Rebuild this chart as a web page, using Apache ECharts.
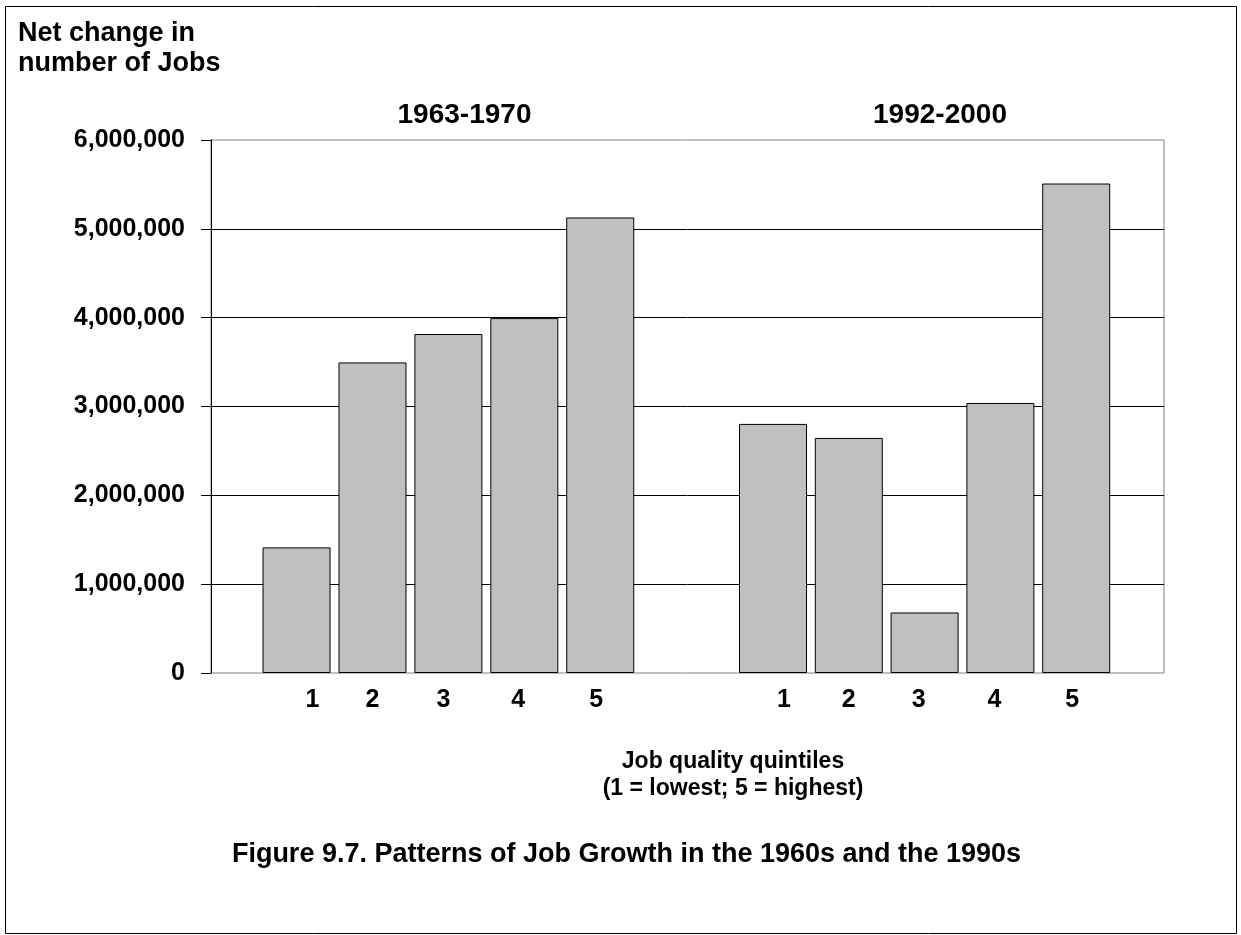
<!DOCTYPE html>
<html>
<head>
<meta charset="utf-8">
<script src="https://cdn.jsdelivr.net/npm/echarts@6/dist/echarts.min.js"></script>
<style>
html,body{margin:0;padding:0;background:#fff;}
#chart{width:1241px;height:935px;}
</style>
</head>
<body>
<div id="chart"></div>
<script>
// ---- data ----
const quintiles = ['1', '2', '3', '4', '5'];
const periods = ['1963-1970', '1992-2000'];
const jobs1963_1970 = [1414000, 3496000, 3816000, 3995000, 5128000];
const jobs1992_2000 = [2804000, 2646000, 681000, 3040000, 5510000];
const yTicks = [0, 1000000, 2000000, 3000000, 4000000, 5000000, 6000000];
const yTitle = 'Net change in\nnumber of Jobs';
const xTitle = 'Job quality quintiles\n(1 = lowest; 5 = highest)';
const caption = 'Figure 9.7. Patterns of Job Growth in the 1960s and the 1990s';

// ---- styling ----
const FONT = '"Liberation Sans", Arial, sans-serif';
const labelShift1 = [16, 0, -5, -6, -4];
const labelShift2 = [11, 0, -6, -6, -4];
function axisData(shifts) {
  return quintiles.map((q, i) => {
    const d = shifts[i];
    return { value: q, textStyle: { padding: d >= 0 ? [0, 0, 0, 2 * d] : [0, -2 * d, 0, 0] } };
  });
}
const yMin = yTicks[0], yMax = yTicks[yTicks.length - 1], yStep = yTicks[1] - yTicks[0];

const chart = echarts.init(document.getElementById('chart'), null, { renderer: 'canvas' });

const hiddenY = (idx) => ({
  type: 'value', gridIndex: idx, min: yMin, max: yMax, interval: yStep,
  show: false, splitLine: { show: false }
});
const barX = (idx, shifts) => ({
  type: 'category', gridIndex: idx, data: axisData(shifts),
  axisLine: { show: false }, axisTick: { show: false }, splitLine: { show: false },
  axisLabel: { margin: 15, fontSize: 25, fontWeight: 'bold', color: '#000', fontFamily: FONT }
});
const barSeries = (idx, vals) => ({
  type: 'bar', xAxisIndex: idx, yAxisIndex: idx, data: vals, barWidth: 68,
  itemStyle: { color: '#C0C0C0', borderColor: '#000', borderWidth: 1 },
  emphasis: { disabled: true }, animation: false
});

const option = {
  animation: false,
  backgroundColor: '#fff',
  grid: [
    { left: 211, right: 77, top: 140, bottom: 262, show: true, borderColor: '#808080', borderWidth: 1, backgroundColor: 'transparent' },
    { left: 258.6, right: 602.8, top: 140, bottom: 262 },
    { left: 735.1, right: 126.9, top: 140, bottom: 262 }
  ],
  xAxis: [
    { type: 'category', gridIndex: 0, data: [''], show: false },
    barX(1, labelShift1),
    barX(2, labelShift2)
  ],
  yAxis: [
    {
      type: 'value', gridIndex: 0, min: yMin, max: yMax, interval: yStep,
      axisLine: { show: true, lineStyle: { color: '#000', width: 1 } },
      axisTick: { show: true, length: 10, lineStyle: { color: '#000' } },
      axisLabel: {
        margin: 26, fontSize: 25, fontWeight: 'bold', color: '#000', fontFamily: FONT,
        formatter: v => v.toLocaleString('en-US')
      },
      splitLine: { show: true, showMinLine: false, showMaxLine: false, lineStyle: { color: '#000', width: 1 } }
    },
    hiddenY(1),
    hiddenY(2)
  ],
  series: [
    barSeries(1, jobs1963_1970),
    barSeries(2, jobs1992_2000)
  ],
  graphic: [
    { type: 'rect', shape: { x: 5.5, y: 6.5, width: 1231, height: 927 },
      style: { fill: 'none', stroke: '#000', lineWidth: 1 }, silent: true, z: -10 },
    { type: 'text', x: 18, y: 48.5, silent: true,
      style: { text: yTitle, font: 'bold 27px ' + FONT, fill: '#000', align: 'left', verticalAlign: 'middle', lineHeight: 30 } },
    { type: 'text', x: 464.5, y: 115, silent: true,
      style: { text: periods[0], font: 'bold 28px ' + FONT, fill: '#000', align: 'center', verticalAlign: 'middle' } },
    { type: 'text', x: 940, y: 115, silent: true,
      style: { text: periods[1], font: 'bold 28px ' + FONT, fill: '#000', align: 'center', verticalAlign: 'middle' } },
    { type: 'text', x: 733, y: 775, silent: true,
      style: { text: xTitle, font: 'bold 23px ' + FONT, fill: '#000', align: 'center', verticalAlign: 'middle', lineHeight: 27 } },
    { type: 'text', x: 626.5, y: 855, silent: true,
      style: { text: caption, font: 'bold 27px ' + FONT, fill: '#000', align: 'center', verticalAlign: 'middle' } }
  ]
};
chart.setOption(option);
</script>
</body>
</html>
